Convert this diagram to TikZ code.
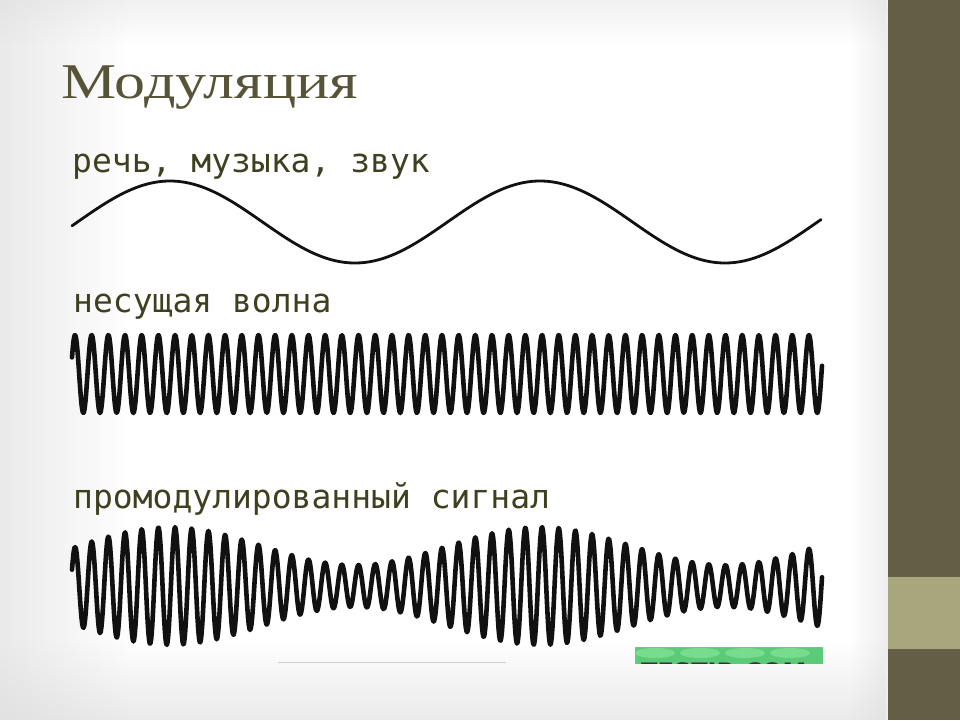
\documentclass[tikz,border=0pt]{standalone}
\usepackage{fontspec}
\usetikzlibrary{fadings}
\setmainfont{Liberation Serif}
\newfontfamily\lblfont{DejaVu Sans Mono}
\newfontfamily\wmfont{DejaVu Sans}
\definecolor{strip}{HTML}{655E46}
\definecolor{stripl}{HTML}{A8A67D}
\definecolor{titlec}{HTML}{575438}
\definecolor{lblc}{HTML}{3F4020}
\definecolor{wavec}{HTML}{111111}
\definecolor{vigA}{HTML}{DCDCDC}
\definecolor{wmgreen}{HTML}{5CCB78}
\definecolor{wmlight}{HTML}{9BF2A8}
\definecolor{wmborder}{HTML}{8FA9C8}
\tikzfading[name=fadeR, left color=transparent!0, right color=transparent!100]
\tikzfading[name=fadeL, left color=transparent!100, right color=transparent!0]
\tikzfading[name=fadeD, top color=transparent!0, bottom color=transparent!100]
\tikzfading[name=fadeU, top color=transparent!100, bottom color=transparent!0]
\tikzset{
  lbl/.style={anchor=base west, inner sep=0pt, text=lblc, font=\lblfont\fontsize{33}{33}\selectfont},
  titlestyle/.style={anchor=base west, inner sep=0pt, text=titlec, font=\fontsize{50}{50}\selectfont},
  wave/.style={draw=wavec, line join=round, line cap=round},
}
\begin{document}
\begin{tikzpicture}[x=1pt,y=-1pt]
\useasboundingbox (0,0) rectangle (960,720);
% background with soft vignette
\fill[white] (0,0) rectangle (888,720);
\fill[vigA, path fading=fadeR, opacity=0.6] (0,0) rectangle (130,720);
\fill[vigA, path fading=fadeU, opacity=0.6] (0,640) rectangle (888,720);
\fill[vigA, path fading=fadeD, opacity=0.4] (0,0) rectangle (888,45);
\fill[vigA, path fading=fadeL, opacity=0.5] (850,0) rectangle (888,720);
\fill[strip] (888,0) rectangle (960,720);
\fill[stripl] (888,577) rectangle (960,649);
% title
\node[titlestyle, xscale=1.24] (title) at (61,98) {Модуляция};
% labels
\node[lbl] (l1) at (72,172) {речь, музыка, звук};
\node[lbl] (l2) at (73,312) {несущая волна};
\node[lbl] (l3) at (73,508) {промодулированный сигнал};
% speech wave
\draw[wave, line width=2.8pt] plot[domain=72:821, samples=300]
  (\x, {222 - 41*sin((\x-77.5)*0.972973)});
% carrier wave
\draw[wave, line width=4.6pt] plot[domain=72:822, samples=1100]
  (\x, {374 - 39*cos(mod(\x-75,16.68)*21.5827)});
% modulated signal
\draw[wave, line width=4.6pt] plot[domain=72:822, samples=1100]
  (\x, {586 - (40+19*sin((\x-77.5)*0.972973))*cos(mod(\x-75,16.68)*21.5827)});
% faint edge line
\draw[draw=black!18, line width=1pt] (278,662) -- (506,662);
% watermark strip (clipped)
\begin{scope}
  \clip (635,647) rectangle (823,663.5);
  \fill[wmgreen] (635,647) rectangle (823,664);
  \foreach \cx in {655,700,745,790} {
    \fill[wmlight, opacity=0.45] (\cx,653) ellipse (20 and 5);
  }
  \draw[wmborder, line width=1.5pt] (635,664) -- (635,647.5) -- (823,647.5);
  \node[anchor=base west, inner sep=0pt, text=black!80, font=\wmfont\bfseries\fontsize{24}{24}\selectfont] (wm) at (641,680.5) {TESTIR.COM};
\end{scope}
\end{tikzpicture}
\end{document}
